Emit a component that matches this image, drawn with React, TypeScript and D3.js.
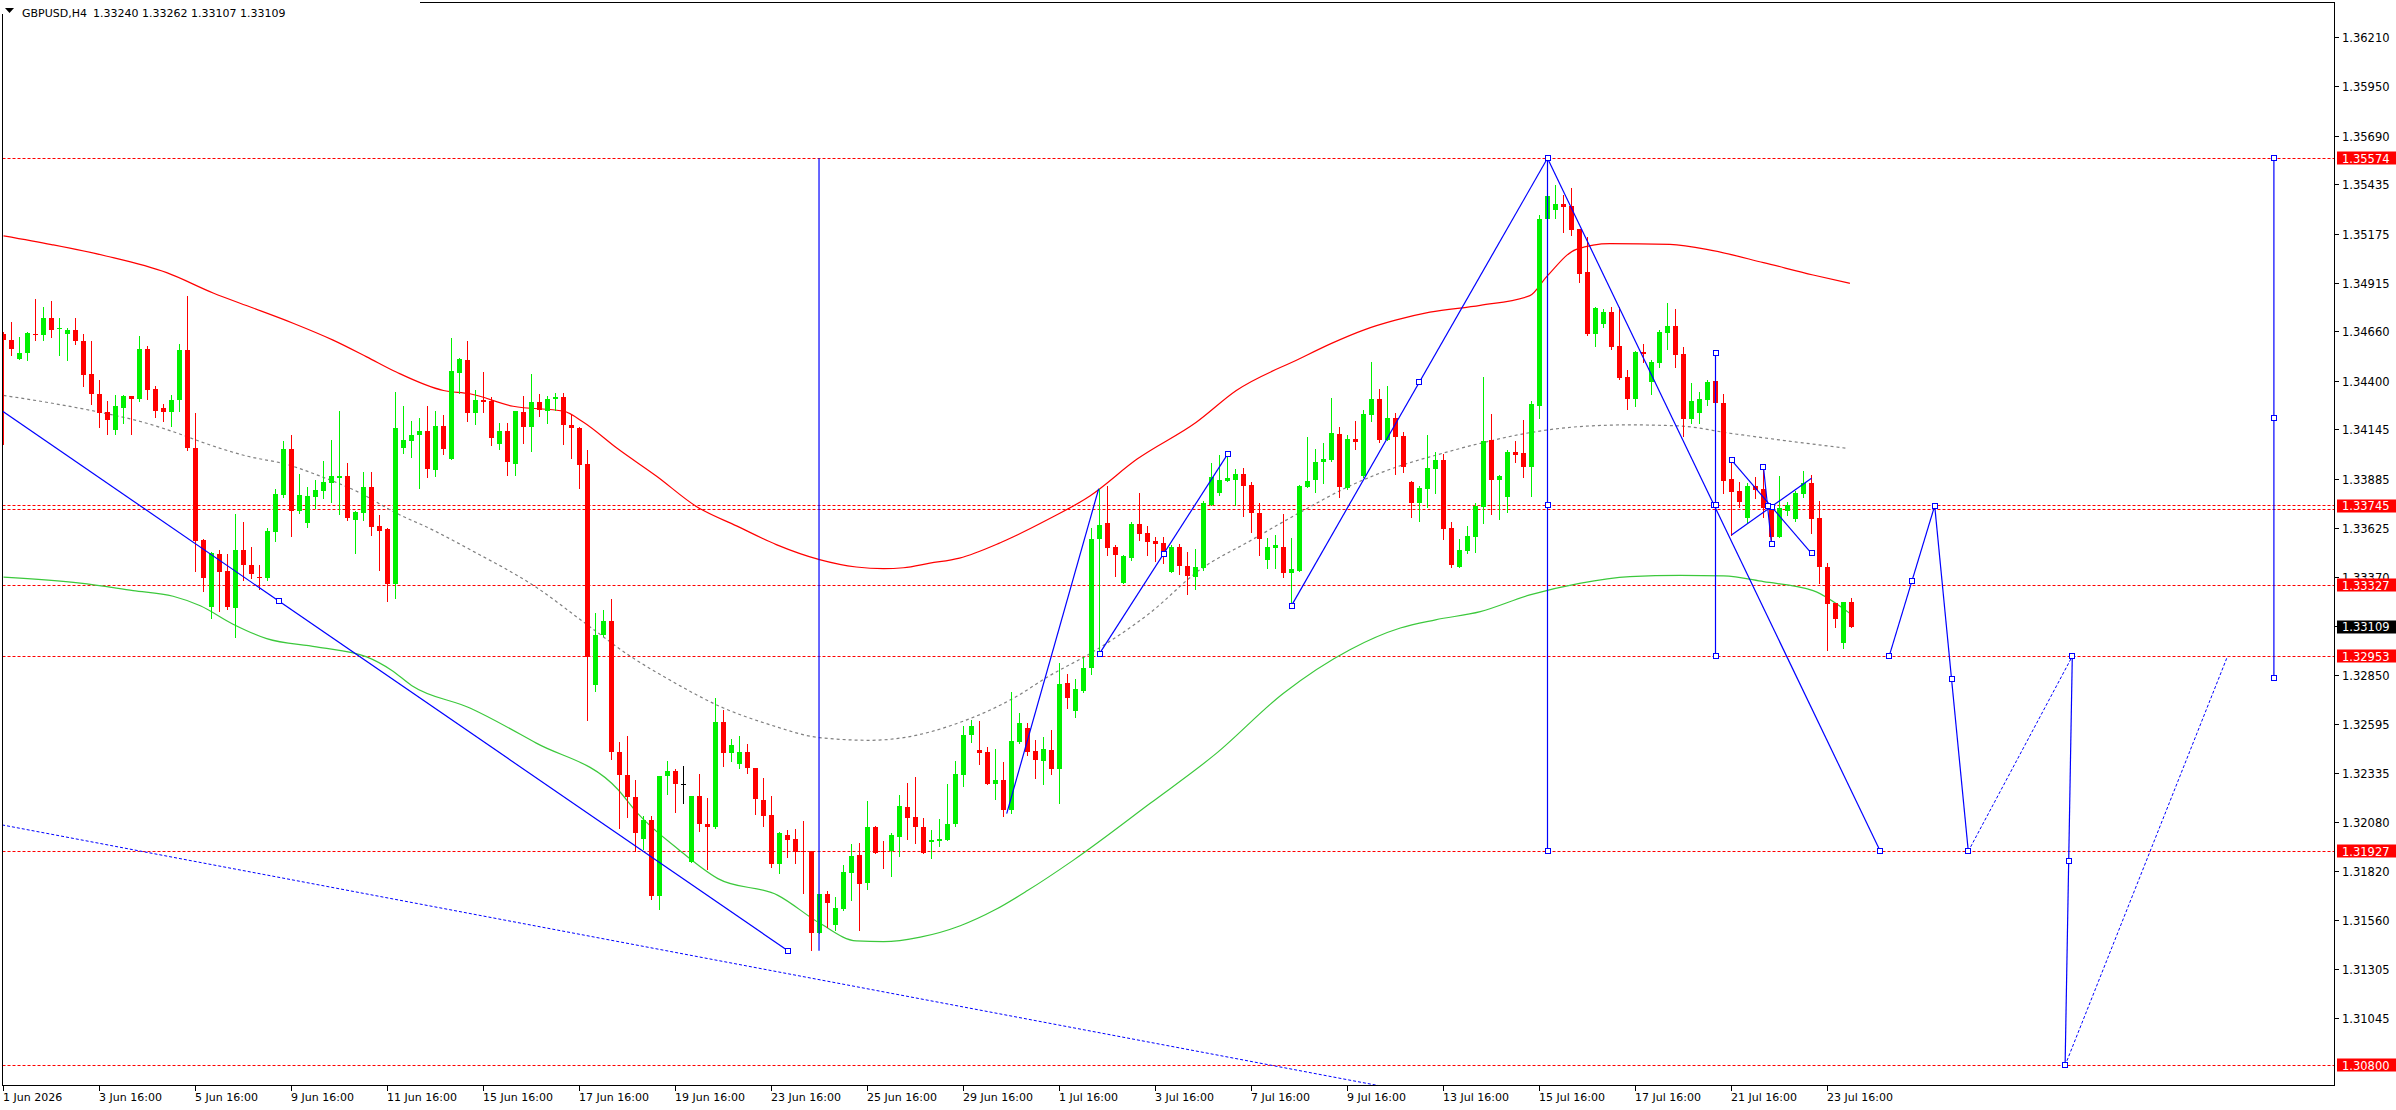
import React from "react";
import * as d3 from "d3";

const symbol = "GBPUSD,H4";

// [open, high, low, close] per H4 bar, left to right
const ohlc: number[][] = [
  [1.34649,1.34660,1.34069,1.34618],[1.34618,1.34715,1.34541,1.34568],[1.34520,1.34635,1.34520,1.34550],[1.34547,1.34662,1.34515,1.34656],
  [1.34649,1.34833,1.34618,1.34642],[1.34642,1.34789,1.34618,1.34736],[1.34736,1.34821,1.34632,1.34669],[1.34676,1.34736,1.34541,1.34683],
  [1.34648,1.34683,1.34511,1.34672],[1.34672,1.34731,1.34596,1.34610],[1.34614,1.34649,1.34377,1.34435],[1.34439,1.34614,1.34281,1.34331],
  [1.34333,1.34407,1.34159,1.34234],[1.34237,1.34295,1.34122,1.34196],[1.34143,1.34327,1.34122,1.34269],[1.34260,1.34327,1.34180,1.34322],
  [1.34322,1.34325,1.34122,1.34308],[1.34308,1.34641,1.34299,1.34571],[1.34571,1.34586,1.34308,1.34356],[1.34359,1.34375,1.34214,1.34244],
  [1.34258,1.34279,1.34191,1.34239],[1.34239,1.34329,1.34164,1.34301],[1.34301,1.34595,1.34244,1.34566],[1.34566,1.34848,1.34040,1.34048],
  [1.34048,1.34234,1.33403,1.33559],[1.33563,1.33568,1.33299,1.33366],[1.33214,1.33502,1.33157,1.33495],[1.33492,1.33510,1.33189,1.33396],
  [1.33403,1.33494,1.33202,1.33214],[1.33209,1.33701,1.33055,1.33510],[1.33515,1.33658,1.33352,1.33432],[1.33435,1.33529,1.33366,1.33387],
  [1.33370,1.33435,1.33308,1.33363],[1.33364,1.33630,1.33357,1.33610],[1.33607,1.33835,1.33559,1.33807],[1.33802,1.34088,1.33794,1.34046],
  [1.34046,1.34120,1.33587,1.33718],[1.33718,1.33913,1.33706,1.33802],[1.33653,1.33846,1.33633,1.33796],[1.33793,1.33879,1.33733,1.33830],
  [1.33823,1.33982,1.33786,1.33872],[1.33865,1.34094,1.33763,1.33902],[1.33894,1.34242,1.33701,1.33902],[1.33902,1.33971,1.33671,1.33679],
  [1.33671,1.33720,1.33495,1.33711],[1.33706,1.33925,1.33671,1.33844],[1.33844,1.33925,1.33594,1.33633],[1.33637,1.33697,1.33405,1.33612],
  [1.33621,1.33626,1.33242,1.33332],[1.33332,1.34343,1.33262,1.34152],[1.34048,1.34269,1.34021,1.34094],[1.34085,1.34191,1.34000,1.34120],
  [1.34117,1.34205,1.33839,1.34141],[1.34141,1.34269,1.33897,1.33941],[1.33936,1.34246,1.33904,1.34163],[1.34163,1.34225,1.34016,1.34042],
  [1.33989,1.34626,1.33989,1.34455],[1.34446,1.34525,1.34338,1.34520],[1.34513,1.34614,1.34189,1.34234],[1.34234,1.34352,1.34175,1.34300],
  [1.34300,1.34448,1.34238,1.34292],[1.34296,1.34316,1.34064,1.34101],[1.34072,1.34181,1.34042,1.34140],[1.34140,1.34181,1.33908,1.33974],
  [1.33966,1.34245,1.33906,1.34245],[1.34241,1.34322,1.34077,1.34158],[1.34158,1.34437,1.34034,1.34294],[1.34294,1.34331,1.34218,1.34249],
  [1.34245,1.34325,1.34179,1.34308],[1.34308,1.34341,1.34249,1.34316],[1.34316,1.34341,1.34070,1.34169],[1.34173,1.34228,1.33995,1.34156],
  [1.34156,1.34160,1.33841,1.33962],[1.33966,1.34040,1.32617,1.32949],[1.32804,1.33179,1.32773,1.33064],[1.33064,1.33195,1.33060,1.33140],
  [1.33140,1.33253,1.32412,1.32449],[1.32449,1.32500,1.32047,1.32326],[1.32330,1.32535,1.32105,1.32211],[1.32213,1.32304,1.31930,1.32021],
  [1.31994,1.32111,1.31937,1.32092],[1.32092,1.32111,1.31676,1.31693],[1.31693,1.32324,1.31625,1.32324],[1.32322,1.32404,1.32226,1.32351],
  [1.32351,1.32361,1.32134,1.32279],[1.32281,1.32377,1.32179,1.32281],[1.31873,1.32218,1.31873,1.32218],[1.32218,1.32336,1.32031,1.32068],
  [1.32070,1.32209,1.31832,1.32053],[1.32053,1.32734,1.32047,1.32609],[1.32609,1.32672,1.32375,1.32443],[1.32443,1.32519,1.32400,1.32488],
  [1.32388,1.32535,1.32363,1.32449],[1.32449,1.32494,1.32338,1.32363],[1.32365,1.32367,1.32121,1.32201],[1.32199,1.32312,1.32060,1.32111],
  [1.32119,1.32218,1.31844,1.31861],[1.31861,1.32027,1.31812,1.32021],[1.32014,1.32037,1.31896,1.31988],[1.31992,1.32045,1.31867,1.31924],
  [1.31930,1.32088,1.31709,1.31922],[1.31926,1.31930,1.31406,1.31498],[1.31498,1.31701,1.31498,1.31701],[1.31701,1.31717,1.31529,1.31656],
  [1.31539,1.31685,1.31513,1.31629],[1.31623,1.31853,1.31617,1.31818],[1.31812,1.31967,1.31672,1.31902],[1.31906,1.31972,1.31510,1.31756],
  [1.31760,1.32189,1.31730,1.32054],[1.32054,1.32060,1.31916,1.31916],[1.31931,1.31982,1.31838,1.31926],[1.31926,1.32023,1.31799,1.32014],
  [1.32004,1.32222,1.31904,1.32164],[1.32160,1.32287,1.31994,1.32101],[1.32107,1.32320,1.31969,1.32053],[1.32056,1.32101,1.31916,1.31916],
  [1.31978,1.32037,1.31894,1.31988],[1.31982,1.32097,1.31955,1.31992],[1.31984,1.32283,1.31984,1.32072],[1.32068,1.32404,1.32058,1.32336],
  [1.32328,1.32587,1.32271,1.32539],[1.32539,1.32618,1.32504,1.32587],[1.32460,1.32613,1.32388,1.32446],[1.32449,1.32477,1.32282,1.32282],
  [1.32282,1.32467,1.32203,1.32301],[1.32301,1.32396,1.32115,1.32145],[1.32145,1.32766,1.32129,1.32507],[1.32504,1.32655,1.32495,1.32602],
  [1.32576,1.32604,1.32435,1.32451],[1.32454,1.32511,1.32315,1.32407],[1.32404,1.32528,1.32282,1.32465],[1.32460,1.32565,1.32335,1.32361],
  [1.32361,1.32919,1.32182,1.32808],[1.32812,1.32858,1.32683,1.32736],[1.32667,1.32835,1.32636,1.32780],[1.32771,1.32947,1.32764,1.32891],
  [1.32889,1.33630,1.32861,1.33569],[1.33569,1.33833,1.32967,1.33643],[1.33653,1.33850,1.33486,1.33521],[1.33526,1.33537,1.33375,1.33484],
  [1.33338,1.33484,1.33338,1.33479],[1.33472,1.33662,1.33458,1.33648],[1.33648,1.33811,1.33563,1.33597],[1.33600,1.33637,1.33486,1.33554],
  [1.33558,1.33583,1.33456,1.33544],[1.33548,1.33583,1.33444,1.33498],[1.33396,1.33540,1.33396,1.33526],[1.33530,1.33542,1.33384,1.33428],
  [1.33426,1.33502,1.33280,1.33375],[1.33370,1.33516,1.33305,1.33421],[1.33416,1.33771,1.33405,1.33759],[1.33750,1.33973,1.33750,1.33896],
  [1.33811,1.34012,1.33803,1.33880],[1.33878,1.34009,1.33878,1.33891],[1.33883,1.33938,1.33748,1.33915],[1.33915,1.33944,1.33692,1.33848],
  [1.33854,1.33868,1.33607,1.33708],[1.33709,1.33762,1.33486,1.33569],[1.33460,1.33578,1.33419,1.33526],[1.33523,1.33590,1.33416,1.33537],
  [1.33530,1.33701,1.33370,1.33391],[1.33391,1.33574,1.33220,1.33410],[1.33403,1.33857,1.33403,1.33848],[1.33845,1.34105,1.33845,1.33875],
  [1.33883,1.34044,1.33820,1.33978],[1.33978,1.34074,1.33866,1.33993],[1.33986,1.34313,1.33979,1.34128],[1.34123,1.34158,1.33792,1.33845],
  [1.33838,1.34118,1.33833,1.34097],[1.34097,1.34193,1.34044,1.34083],[1.33903,1.34250,1.33898,1.34229],[1.34225,1.34500,1.34193,1.34308],
  [1.34308,1.34361,1.34081,1.34091],[1.34091,1.34378,1.34091,1.34206],[1.34206,1.34234,1.33912,1.34107],[1.34112,1.34132,1.33924,1.33951],
  [1.33870,1.33877,1.33688,1.33760],[1.33759,1.33848,1.33664,1.33838],[1.33836,1.34118,1.33739,1.33944],[1.33940,1.34026,1.33811,1.33986],
  [1.33986,1.34018,1.33569,1.33625],[1.33629,1.33660,1.33422,1.33434],[1.33422,1.33569,1.33422,1.33513],[1.33508,1.33639,1.33499,1.33587],
  [1.33583,1.33762,1.33504,1.33744],[1.33741,1.34423,1.33657,1.34086],[1.34092,1.34229,1.33700,1.33881],[1.33881,1.33907,1.33674,1.33904],
  [1.33792,1.34038,1.33714,1.34030],[1.34028,1.34086,1.33978,1.34013],[1.34023,1.34197,1.33899,1.33951],[1.33951,1.34299,1.33799,1.34281],
  [1.34272,1.35276,1.34209,1.35253],[1.35253,1.35574,1.35250,1.35376],[1.35302,1.35434,1.35262,1.35334],[1.35334,1.35381,1.35188,1.35320],
  [1.35323,1.35418,1.35172,1.35197],[1.35202,1.35202,1.34925,1.34967],[1.34976,1.35162,1.34645,1.34650],[1.34650,1.34793,1.34588,1.34786],
  [1.34704,1.34781,1.34686,1.34764],[1.34764,1.34793,1.34569,1.34583],[1.34586,1.34793,1.34411,1.34416],[1.34421,1.34460,1.34255,1.34309],
  [1.34309,1.34560,1.34271,1.34555],[1.34555,1.34595,1.34504,1.34546],[1.34399,1.34513,1.34334,1.34502],[1.34499,1.34671,1.34474,1.34660],
  [1.34657,1.34813,1.34569,1.34692],[1.34692,1.34781,1.34478,1.34539],[1.34545,1.34583,1.34113,1.34200],[1.34200,1.34390,1.34183,1.34295],
  [1.34232,1.34343,1.34183,1.34306],[1.34302,1.34408,1.34276,1.34399],[1.34402,1.34408,1.34285,1.34285],[1.34285,1.34334,1.33811,1.33876],
  [1.33885,1.33969,1.33592,1.33820],[1.33823,1.33869,1.33741,1.33767],[1.33679,1.33864,1.33653,1.33850],[1.33850,1.33895,1.33785,1.33829],
  [1.33834,1.33951,1.33685,1.33732],[1.33732,1.33755,1.33557,1.33583],[1.33583,1.33902,1.33583,1.33732],[1.33718,1.33764,1.33697,1.33750],
  [1.33676,1.33825,1.33665,1.33815],[1.33808,1.33929,1.33793,1.33864],[1.33867,1.33907,1.33600,1.33678],[1.33681,1.33771,1.33341,1.33422],
  [1.33425,1.33446,1.32986,1.33229],[1.33236,1.33236,1.33109,1.33148],[1.33025,1.33240,1.32995,1.33240],[1.33240,1.33262,1.33107,1.33109],
];

const dateLabels = ["1 Jun 2026","3 Jun 16:00","5 Jun 16:00","9 Jun 16:00","11 Jun 16:00","15 Jun 16:00","17 Jun 16:00","19 Jun 16:00","23 Jun 16:00","25 Jun 16:00","29 Jun 16:00","1 Jul 16:00","3 Jul 16:00","7 Jul 16:00","9 Jul 16:00","13 Jul 16:00","15 Jul 16:00","17 Jul 16:00","21 Jul 16:00","23 Jul 16:00"];
const dateLabelBars = [0,12,24,36,48,60,72,84,96,108,120,132,144,156,168,180,192,204,216,228];

const priceTicks = [1.36210,1.35950,1.35690,1.35435,1.35175,1.34915,1.34660,1.34400,1.34145,1.33885,1.33625,1.33370,1.33110,1.32850,1.32595,1.32335,1.32080,1.31820,1.31560,1.31305,1.31045];

const levels = [1.35574,1.33745,1.33327,1.32953,1.31927,1.30800];
const levelTwins = [1.33728];

// envelope lines: [bar index, price]
const upperBand: [number, number][] = [
  [0,1.35166],[6,1.35120],[12.8,1.35060],[20.4,1.34972],[26.2,1.34865],[31.2,1.34786],[36.2,1.34706],[41.2,1.34617],
  [45.4,1.34529],[49.1,1.34449],[55,1.34352],[58.3,1.34335],[63.7,1.34269],[70,1.34243],[72.5,1.34185],[76.7,1.34048],
  [81.6,1.33902],[86.6,1.33742],[91.7,1.33638],[96.6,1.33541],[102,1.33462],[106.6,1.33423],[110,1.33414],[112.5,1.33419],
  [115.8,1.33443],[119.5,1.33470],[124.6,1.33551],[130.6,1.33674],[135.8,1.33797],[141.7,1.33991],[149.1,1.34185],[154.1,1.34352],
  [162,1.34519],[166,1.34600],[170,1.34670],[174,1.34722],[178.3,1.34764],[184.6,1.34800],[190.8,1.34851],[192.9,1.34951],
  [196.6,1.35095],[200.8,1.35125],[208.3,1.35121],[213.7,1.35088],[220,1.35025],[226.2,1.34960],[230.8,1.34916],
];
const middleBand: [number, number][] = [
  [0,1.34326],[5.8,1.34287],[12.1,1.34237],[17.1,1.34189],[22.1,1.34122],[24.6,1.34083],[30.4,1.34007],[35.4,1.33963],
  [39.6,1.33901],[44.6,1.33812],[48.7,1.33715],[53.7,1.33617],[58.3,1.33515],[66.6,1.33316],[72.9,1.33121],[78.3,1.32955],
  [83.3,1.32828],[90,1.32681],[95.8,1.32593],[102,1.32525],[108.3,1.32511],[112.5,1.32525],[119,1.32597],[126.6,1.32741],
  [130.6,1.32847],[135.8,1.32967],[143.3,1.33181],[149.6,1.33410],[155.8,1.33560],[162,1.33709],[168.3,1.33850],[174.6,1.33956],
  [179,1.34011],[184.6,1.34074],[190.8,1.34130],[197,1.34162],[203.3,1.34171],[209.6,1.34165],[215.8,1.34127],[222,1.34092],[230.4,1.34048],
];
const lowerBand: [number, number][] = [
  [0,1.33370],[9.6,1.33338],[16.2,1.33299],[21.2,1.33269],[24.6,1.33219],[28.7,1.33122],[32.9,1.33046],[39.1,1.33003],
  [45.4,1.32950],[48.5,1.32880],[51,1.32800],[58.3,1.32681],[66.6,1.32496],[76.8,1.32252],[79.3,1.32125],[84.3,1.31939],
  [89.3,1.31783],[96.8,1.31695],[102,1.31549],[106.6,1.31455],[110,1.31451],[114.6,1.31475],[119.6,1.31535],[124,1.31620],
  [128,1.31720],[133.7,1.31879],[143.3,1.32178],[151.6,1.32442],[160,1.32759],[168.3,1.32988],[174.6,1.33102],[179,1.33145],
  [184.6,1.33188],[190.8,1.33276],[197,1.33337],[203.3,1.33372],[209.6,1.33379],[215,1.33376],[220,1.33346],[226.2,1.33299],[230.8,1.33179],
];

// drawn objects: endpoints as [bar index, price]
const markedTrends: [number, number][][] = [
  [[-29.2,1.35084],[98.06,1.31403]],
  [[137,1.32967],[153,1.34016]],
  [[161,1.33220],[193,1.35574]],
  [[193,1.35574],[234.6,1.31927]],
  [[193,1.35574],[193,1.31927]],
  [[214,1.34548],[214,1.32953]],
  [[216,1.33985],[226,1.33495]],
  [[220,1.33948],[221,1.33543]],
  [[235.7,1.32953],[241.4,1.33745]],
  [[241.4,1.33745],[245.6,1.31927]],
  [[258.6,1.32953],[257.7,1.30800]],
  [[283.8,1.35574],[283.8,1.32838]],
];
const plainTrends: [number, number][][] = [
  [[101.94,1.35574],[101.94,1.31403]],
  [[125.4,1.32125],[136.9,1.33835]],
  [[216,1.33592],[226,1.33890]],
];
const dottedTrends: [number, number][][] = [
  [[-10,1.32144],[180,1.30629]],
  [[245.6,1.31927],[258.6,1.32953]],
  [[257.7,1.30800],[278,1.32953]],
];

const FONT = "Tahoma, 'DejaVu Sans', sans-serif";
const BULL = "#00f000";
const BEAR = "#ff0000";

export default function App() {
  const W = 2396, H = 1110;
  const L = 2.5, R = 2334.5, T = 2.5, B = 1085.5;
  const x = d3.scaleLinear().domain([0, 291]).range([3.5, 3.5 + 8 * 291]);
  const y = d3.scaleLinear().domain([1.308, 1.35574]).range([1065.4, 158.3]);
  const fmt = (v: number) => v.toFixed(5);
  const snap = (v: number) => Math.round(v - 0.5) + 0.5;
  const curve = d3.line<[number, number]>().x(d => x(d[0])).y(d => y(d[1])).curve(d3.curveMonotoneX);
  const seg = d3.line<[number, number]>().x(d => x(d[0])).y(d => y(d[1]));
  const last = ohlc[ohlc.length - 1];

  const square = (px: number, py: number, k: string) => (
    <rect key={k} x={Math.round(px) - 2.5} y={Math.round(py) - 2.5} width={5} height={5} fill="#fff" stroke="#0000ff" strokeWidth={1} />
  );

  return (
    <svg width={W} height={H} style={{ position: "fixed", left: 0, top: 0, background: "#fff" }} fontFamily={FONT}>
      <defs>
        <clipPath id="plot"><rect x={3} y={3} width={R - 3.5} height={B - 3.5} /></clipPath>
      </defs>
      <rect x={0} y={0} width={W} height={H} fill="#fff" />
      <g clipPath="url(#plot)">
        {/* horizontal levels */}
        {levels.concat(levelTwins).map((lv, k) => (
          <line key={"lv" + k} x1={L} x2={R} y1={snap(y(lv))} y2={snap(y(lv))} stroke="#ff0000" strokeWidth={1} strokeDasharray="3,2" />
        ))}
        {/* envelope */}
        <path d={curve(upperBand) || ""} fill="none" stroke="#ff0000" strokeWidth={1.2} />
        <path d={curve(lowerBand) || ""} fill="none" stroke="#3cc83c" strokeWidth={1.2} />
        <path d={curve(middleBand) || ""} fill="none" stroke="#808080" strokeWidth={1.2} strokeDasharray="3,3" />
        {/* candles */}
        <g shapeRendering="crispEdges">
          {ohlc.map(([o, h, l, c], i) => {
            const cx = x(i);
            const col = o === c ? "#000" : c > o ? BULL : BEAR;
            const top = Math.round(y(Math.max(o, c)));
            const bot = Math.max(Math.round(y(Math.min(o, c))), top + 1);
            const yh = Math.round(y(h));
            const yl = Math.round(y(l));
            return (
              <g key={"c" + i}>
                <rect x={cx - 0.5} y={yh} width={1} height={Math.max(1, yl - yh + 1)} fill={col} />
                <rect x={cx - 2.5} y={top} width={5} height={bot - top} fill={col} />
              </g>
            );
          })}
        </g>
        {/* drawn objects */}
        {dottedTrends.map((p, k) => (
          <path key={"dt" + k} d={seg(p) || ""} fill="none" stroke="#0000ff" strokeWidth={1} strokeDasharray="3,2" />
        ))}
        {plainTrends.map((p, k) => (
          <path key={"pt" + k} d={seg(p) || ""} fill="none" stroke="#0000ff" strokeWidth={1.2} />
        ))}
        {markedTrends.map((p, k) => (
          <path key={"mt" + k} d={seg(p) || ""} fill="none" stroke="#0000ff" strokeWidth={1.2} />
        ))}
        {markedTrends.map((p, k) => {
          const mid: [number, number] = [(p[0][0] + p[1][0]) / 2, (p[0][1] + p[1][1]) / 2];
          return [p[0], mid, p[1]].map((q, j) => square(x(q[0]), y(q[1]), "sq" + k + "_" + j));
        })}
      </g>
      {/* header */}
      <rect x={0} y={0} width={420} height={14} fill="#fff" />
      <path d="M5,8 L14,8 L9.5,13 Z" fill="#000" />
      <text x={22} y={17} fontSize={11} fill="#000">{symbol}</text>
      <text x={93} y={17} fontSize={11} fill="#000">{[last[0], last[1], last[2], last[3]].map(fmt).join(" ")}</text>
      {/* frame */}
      <g stroke="#000" strokeWidth={1} shapeRendering="crispEdges">
        <line x1={L} x2={L} y1={14} y2={B} />
        <line x1={420} x2={R} y1={T} y2={T} />
        <line x1={R} x2={R} y1={T} y2={B} />
        <line x1={L} x2={R} y1={B} y2={B} />
      </g>
      {/* price axis */}
      {priceTicks.map((p, k) => (
        <g key={"pt" + k}>
          <line x1={R} x2={R + 4} y1={snap(y(p))} y2={snap(y(p))} stroke="#000" shapeRendering="crispEdges" />
          <text x={2342} y={y(p) + 4.5} fontSize={11.5} fill="#000">{fmt(p)}</text>
        </g>
      ))}
      {levels.map((lv, k) => (
        <g key={"ll" + k}>
          <rect x={2337} y={Math.round(y(lv)) - 6.5} width={59} height={13} fill="#ff0000" />
          <text x={2342} y={y(lv) + 4.5} fontSize={11.5} fill="#fff">{fmt(lv)}</text>
        </g>
      ))}
      <rect x={2337} y={Math.round(y(last[3])) - 6.5} width={59} height={13} fill="#000" />
      <text x={2342} y={y(last[3]) + 4.5} fontSize={11.5} fill="#fff">{fmt(last[3])}</text>
      {/* time axis */}
      {dateLabels.map((s, k) => (
        <g key={"dl" + k}>
          <line x1={x(dateLabelBars[k])} x2={x(dateLabelBars[k])} y1={B} y2={B + 5} stroke="#000" shapeRendering="crispEdges" />
          <text x={x(dateLabelBars[k]) - 0.5} y={B + 15} fontSize={11} fill="#000">{s}</text>
        </g>
      ))}
    </svg>
  );
}
